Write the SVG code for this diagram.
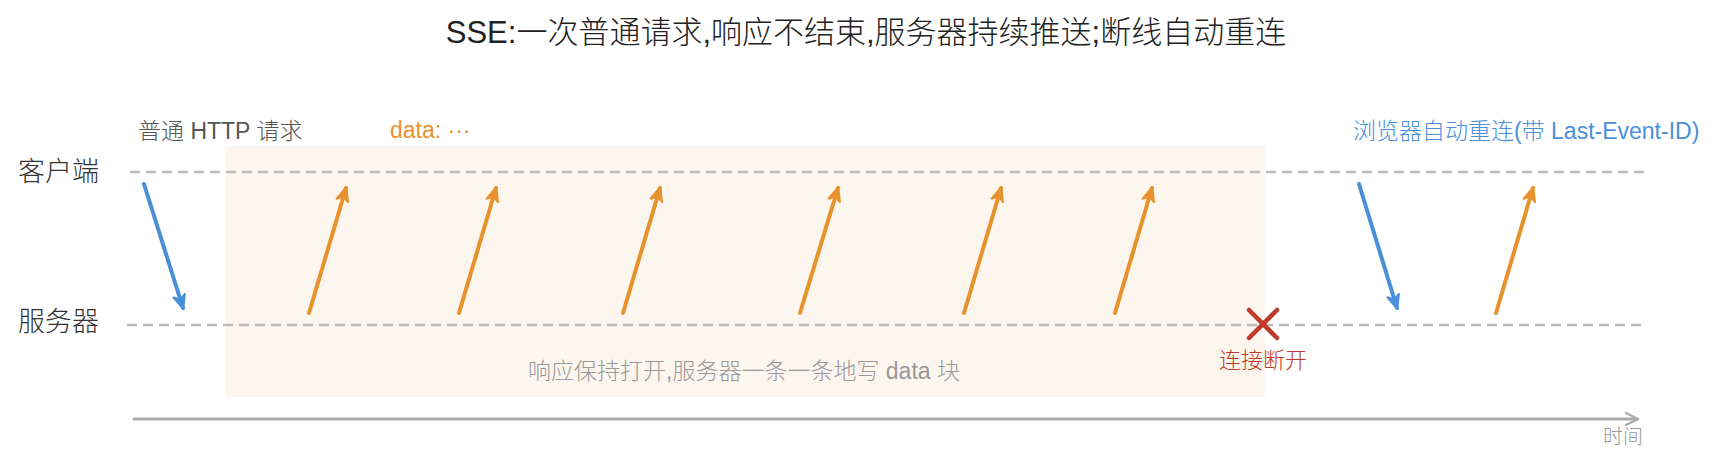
<svg xmlns="http://www.w3.org/2000/svg" width="1721" height="467" viewBox="0 0 1721 467">
<style>
text{font-family:"Liberation Sans","Noto Sans CJK SC",sans-serif;font-weight:300;}
.title{font-size:31px;fill:#222;}
.lane{font-size:27px;fill:#333;}
.lbl{font-size:23px;}
.dash{stroke:#bbb;stroke-width:2.5;stroke-dasharray:10 6;fill:none;}
.blue{stroke:#4a90d9;stroke-width:4;stroke-linecap:round;fill:none;marker-end:url(#ab);}
.orange{stroke:#e8922e;stroke-width:4;stroke-linecap:round;fill:none;marker-end:url(#ao);}
</style>
<defs>
<marker id="ab" markerUnits="userSpaceOnUse" markerWidth="18" markerHeight="16" refX="14" refY="8" orient="auto">
<path d="M1,2 L15,8 L1,14 L5,8 Z" fill="#4a90d9" stroke="#4a90d9" stroke-width="2" stroke-linejoin="round"/>
</marker>
<marker id="ao" markerUnits="userSpaceOnUse" markerWidth="18" markerHeight="16" refX="14" refY="8" orient="auto">
<path d="M1,2 L15,8 L1,14 L5,8 Z" fill="#e8922e" stroke="#e8922e" stroke-width="2" stroke-linejoin="round"/>
</marker>
</defs>
<rect width="1721" height="467" fill="#fff"/>
<text class="title" x="866" y="43" text-anchor="middle">SSE:一次普通请求,响应不结束,服务器持续推送;断线自动重连</text>
<g id="stream-area">
<rect x="226" y="146" width="1039" height="251" fill="#fdf6ee"/>
<text class="lbl" x="744" y="379" text-anchor="middle" fill="#999">响应保持打开,服务器一条一条地写 data 块</text>
</g>
<g id="client">
<text class="lane" x="18" y="181">客户端</text>
<line class="dash" x1="130" y1="172" x2="1646" y2="172"/>
</g>
<g id="server">
<text class="lane" x="18" y="331">服务器</text>
<line class="dash" x1="127" y1="325" x2="1646" y2="325"/>
</g>
<g id="time-axis">
<line x1="134" y1="419" x2="1637" y2="419" stroke="#aaa" stroke-width="3" stroke-linecap="round"/>
<polyline points="1626,413 1638,419 1626,425" fill="none" stroke="#aaa" stroke-width="2.5" stroke-linecap="round" stroke-linejoin="round"/>
<text x="1643" y="444" text-anchor="end" fill="#999" style="font-size:20px">时间</text>
</g>
<g id="labels">
<text class="lbl" x="138" y="139" fill="#555">普通 HTTP 请求</text>
<text class="lbl" x="390" y="138" fill="#e8922e">data: ···</text>
<text class="lbl" x="1353" y="139" fill="#4a90d9">浏览器自动重连(带 Last-Event-ID)</text>
</g>
<g id="disconnect">
<line x1="1249" y1="310" x2="1277" y2="338" stroke="#c0392b" stroke-width="4.5" stroke-linecap="round"/>
<line x1="1277" y1="310" x2="1249" y2="338" stroke="#c0392b" stroke-width="4.5" stroke-linecap="round"/>
<text x="1263" y="368" text-anchor="middle" fill="#c0392b" style="font-size:22px">连接断开</text>
</g>
<g id="connectors">
<line class="blue" x1="144" y1="184" x2="183" y2="308"/>
<line class="orange" x1="309" y1="313" x2="346" y2="188"/>
<line class="orange" x1="459" y1="313" x2="496" y2="188"/>
<line class="orange" x1="623" y1="313" x2="660" y2="188"/>
<line class="orange" x1="800" y1="313" x2="838" y2="188"/>
<line class="orange" x1="964" y1="313" x2="1001" y2="188"/>
<line class="orange" x1="1115" y1="313" x2="1152" y2="188"/>
<line class="blue" x1="1359" y1="184" x2="1397" y2="308"/>
<line class="orange" x1="1496" y1="313" x2="1533" y2="188"/>
</g>
</svg>
